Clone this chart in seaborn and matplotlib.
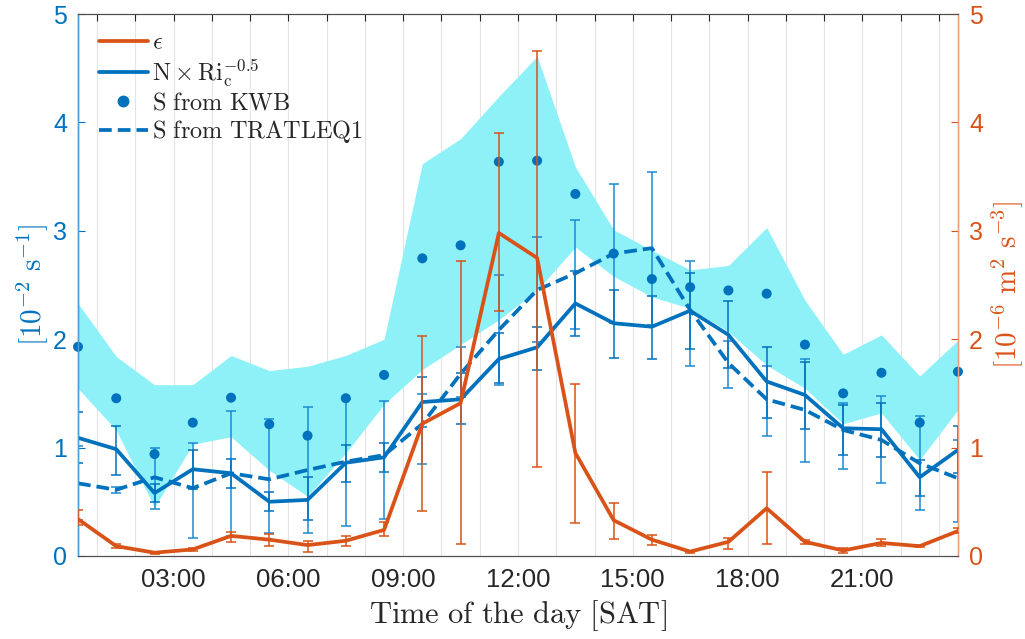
import numpy as np
import pandas as pd
import matplotlib
matplotlib.use("Agg")
import matplotlib.pyplot as plt
from matplotlib.lines import Line2D
import seaborn as sns

# hourly bins (centre of each hour)
hours = np.arange(24) + 0.5

# dissipation rate epsilon [1e-6 m^2 s^-3] with error range
eps = [0.34, 0.09, 0.03, 0.06, 0.185, 0.15, 0.10, 0.14, 0.24, 1.22, 1.41, 2.98,
       2.75, 0.95, 0.33, 0.15, 0.04, 0.13, 0.44, 0.13, 0.05, 0.12, 0.09, 0.23]
eps_lo = [0.29, 0.07, 0.02, 0.05, 0.13, 0.09, 0.04, 0.095, 0.185, 0.41, 0.11, 2.26,
          0.82, 0.30, 0.16, 0.10, 0.03, 0.06, 0.11, 0.11, 0.03, 0.09, 0.08, 0.21]
eps_hi = [0.42, 0.11, 0.04, 0.07, 0.225, 0.20, 0.14, 0.185, 0.31, 2.03, 2.72, 3.90,
          4.66, 1.59, 0.49, 0.19, 0.05, 0.17, 0.77, 0.15, 0.07, 0.16, 0.10, 0.255]

# N x Ri_c^-0.5 [1e-2 s^-1] with error range
nri = [1.09, 0.985, 0.58, 0.80, 0.763, 0.50, 0.517, 0.86, 0.91, 1.42, 1.445, 1.817,
       1.925, 2.33, 2.147, 2.115, 2.263, 2.04, 1.61, 1.485, 1.178, 1.169, 0.726, 0.978]
nri_lo = [0.86, 0.75, 0.50, 0.62, 0.625, 0.41, 0.33, 0.685, 0.77, 1.19, 1.215, 1.60,
          1.716, 2.03, 1.83, 1.82, 1.91, 1.73, 1.275, 1.17, 0.93, 0.91, 0.55, 0.763]
nri_hi = [1.33, 1.20, 0.66, 0.98, 0.895, 0.59, 0.73, 1.02, 1.045, 1.65, 1.69, 2.06,
          2.115, 2.63, 2.45, 2.40, 2.61, 2.35, 1.925, 1.79, 1.39, 1.41, 0.885, 1.20]

# shear from TRATLEQ1 [1e-2 s^-1] with error range
trat = [0.67, 0.61, 0.726, 0.625, 0.763, 0.707, 0.793, 0.87, 0.93, 1.218, 1.68, 2.085,
        2.454, 2.608, 2.79, 2.84, 2.27, 1.78, 1.445, 1.347, 1.162, 1.07, 0.855, 0.717]
trat_lo = [0.33, 0.58, 0.43, 0.17, 0.18, 0.21, 0.21, 0.277, 0.34, 0.85, 1.47, 1.58,
           1.97, 2.09, 2.15, 2.13, 1.75, 1.55, 1.11, 0.87, 0.80, 0.67, 0.42, 0.316]
trat_hi = [1.01, 0.64, 1.00, 1.045, 1.34, 1.26, 1.37, 1.445, 1.43, 1.49, 1.925, 2.59,
           2.94, 3.10, 3.43, 3.545, 2.72, 1.98, 1.75, 1.82, 1.41, 1.476, 1.29, 1.07]

# shear from KWB [1e-2 s^-1] and its spread band
kwb = [1.93, 1.455, 0.94, 1.23, 1.46, 1.215, 1.11, 1.455, 1.67, 2.746, 2.866, 3.637,
       3.647, 3.34, 2.79, 2.555, 2.48, 2.45, 2.42, 1.95, 1.50, 1.69, 1.23, 1.70]
kwb_band_hi = [2.33, 1.84, 1.58, 1.58, 1.85, 1.71, 1.75, 1.85, 2.00, 3.62, 3.85, 4.24,
               4.61, 3.59, 3.01, 2.82, 2.64, 2.68, 3.03, 2.36, 1.86, 2.04, 1.66, 1.99]
kwb_band_lo = [1.547, 1.16, 0.45, 1.03, 1.10, 0.79, 0.55, 0.95, 1.40, 1.72, 1.95, 2.18,
               2.45, 2.85, 2.58, 2.39, 2.285, 2.07, 1.76, 1.547, 1.22, 1.32, 0.886, 1.35]

xtick_hours = [3, 6, 9, 12, 15, 18, 21]
xtick_labels = ["03:00", "06:00", "09:00", "12:00", "15:00", "18:00", "21:00"]

df = pd.DataFrame({"hour": hours, "eps": eps, "nri": nri, "trat": trat, "kwb": kwb})

BLUE = "#0072BD"
BLUE_LIGHT = "#1C8AD4"
ORANGE = "#D95319"
CYAN = "#8EF1F8"
DASH = (3.4, 1.6)

sns.set_theme(style="white")
plt.rcParams["font.family"] = ["Liberation Sans", "DejaVu Sans"]
plt.rcParams["mathtext.fontset"] = "cm"

fig = plt.figure(figsize=(10.25, 6.39), dpi=100)
ax = fig.add_axes([0.0761, 0.130, 0.8585, 0.848])
ax2 = ax.twinx()

# spread band of KWB shear
ax.fill_between(hours, kwb_band_lo, kwb_band_hi, color=CYAN, lw=0, zorder=1)

# faint hourly grid
for h in range(1, 24):
    ax.axvline(h, color="#e4e4e4", lw=0.8, zorder=0.5)

# error bars
ax.errorbar(hours, trat, yerr=[np.array(trat) - np.array(trat_lo), np.array(trat_hi) - np.array(trat)],
            fmt="none", ecolor=BLUE_LIGHT, elinewidth=1.1, capsize=3.5, capthick=1.1, zorder=3)
ax.errorbar(hours, nri, yerr=[np.array(nri) - np.array(nri_lo), np.array(nri_hi) - np.array(nri)],
            fmt="none", ecolor=BLUE, elinewidth=1.1, capsize=3.5, capthick=1.1, zorder=3)

sns.lineplot(data=df, x="hour", y="nri", ax=ax, color=BLUE, lw=2.7, zorder=4, legend=False)
sns.lineplot(data=df, x="hour", y="trat", ax=ax, color=BLUE, lw=2.7, zorder=4, legend=False,
             dashes=False)
ax.lines[-1].set_dashes(DASH)
sns.scatterplot(data=df, x="hour", y="kwb", ax=ax, color=BLUE, s=52, edgecolor="none",
                zorder=5, legend=False, clip_on=False)

# epsilon on the right axis
ax2.errorbar(hours, eps, yerr=[np.array(eps) - np.array(eps_lo), np.array(eps_hi) - np.array(eps)],
             fmt="none", ecolor=ORANGE, elinewidth=1.1, capsize=3.5, capthick=1.1, zorder=3)
sns.lineplot(data=df, x="hour", y="eps", ax=ax2, color=ORANGE, lw=2.7, zorder=4, legend=False)

for a in (ax, ax2):
    a.set_xlim(0.5, 23.5)
    a.set_ylim(0, 5)
    a.set_yticks([0, 1, 2, 3, 4, 5])

ax.set_xticks(xtick_hours)
ax.set_xticklabels(xtick_labels)
ax.set_xticks(range(1, 24), minor=True)
ax.tick_params(axis="x", which="both", direction="in", length=5, width=0.8, top=True,
               colors="#262626", labelsize=18.5, pad=9)
ax.tick_params(axis="y", direction="in", length=5, width=0.8, colors=BLUE, labelsize=18, pad=8)
ax2.tick_params(axis="y", direction="in", length=5, width=0.8, colors=ORANGE, labelsize=18, pad=8)
ax2.tick_params(axis="x", which="both", length=0)

ax.set_xlabel(r"$\mathrm{Time\ of\ the\ day\ [SAT]}$", fontsize=22, color="#262626", labelpad=4)
ax.set_ylabel(r"$[10^{-2}\ \mathrm{s}^{-1}]$", fontsize=21, color=BLUE, labelpad=2)
ax2.set_ylabel(r"$[10^{-6}\ \mathrm{m}^{2}\ \mathrm{s}^{-3}]$", fontsize=21, color=ORANGE, labelpad=4)

for a in (ax, ax2):
    for s in ("top", "bottom"):
        a.spines[s].set_color("#4d4d4d")
        a.spines[s].set_linewidth(0.8)
    a.spines["left"].set_color("#4a9fd8")
    a.spines["right"].set_color("#f0a080")
    a.spines["left"].set_linewidth(1.0)
    a.spines["right"].set_linewidth(1.0)
ax.set_facecolor("white")

handles = [
    Line2D([], [], color=ORANGE, lw=2.7),
    Line2D([], [], color=BLUE, lw=2.7),
    Line2D([], [], color=BLUE, lw=0, marker="o", markersize=7.5),
    Line2D([], [], color=BLUE, lw=2.7, dashes=DASH),
]
labels = [r"$\epsilon$", r"$\mathrm{N}\times\mathrm{Ri}_{\mathrm{c}}^{-0.5}$",
          r"$\mathrm{S\ from\ KWB}$", r"$\mathrm{S\ from\ TRATLEQ1}$"]
ax2.legend(handles, labels, loc="upper left", bbox_to_anchor=(0.004, 0.998), frameon=False,
           fontsize=17.5, handlelength=2.05, handletextpad=0.15, labelspacing=0.14, borderaxespad=0.3)

fig.savefig("out.png", dpi=100)
